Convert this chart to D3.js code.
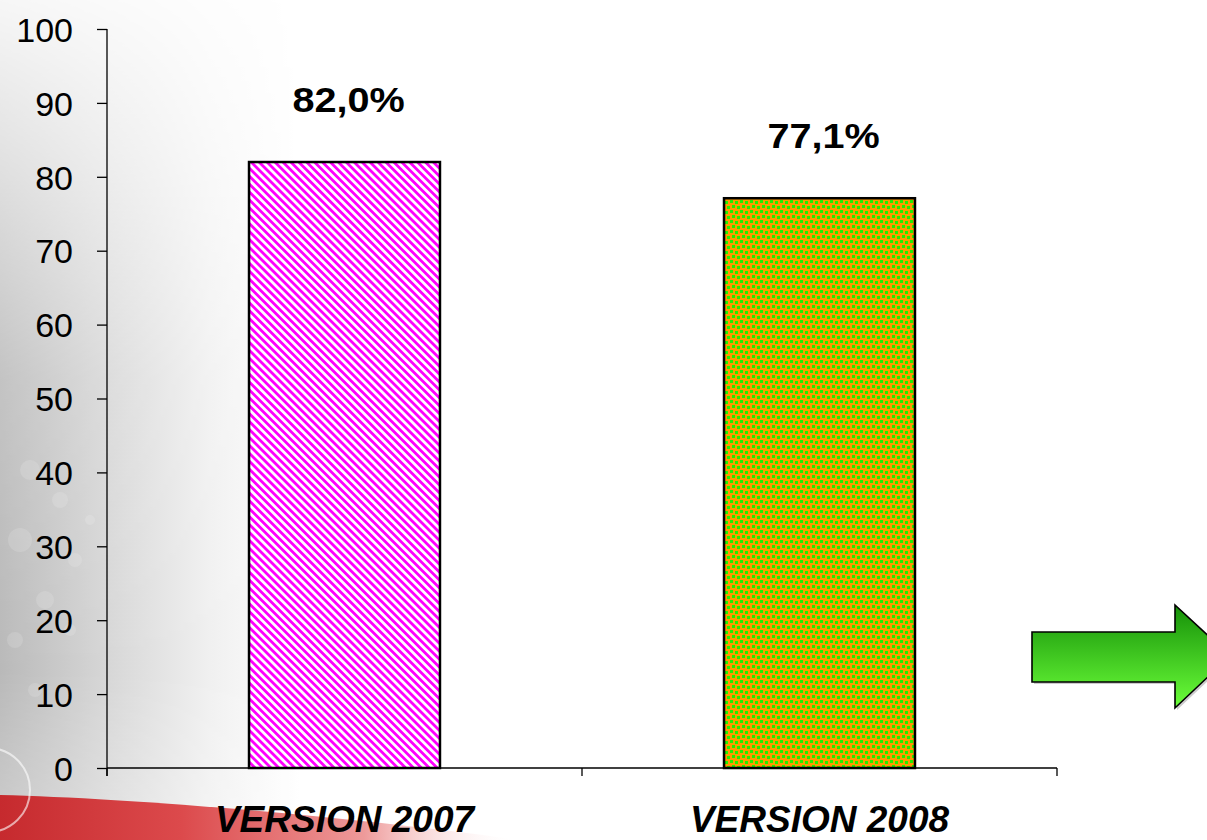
<!DOCTYPE html>
<html>
<head>
<meta charset="utf-8">
<script src="https://cdn.jsdelivr.net/npm/d3@7"></script>
<style>
  html, body { margin: 0; padding: 0; background: #fff; }
  svg { display: block; }
  text { font-family: "Liberation Sans", Arial, sans-serif; fill: #000; }
</style>
</head>
<body>
<svg id="chart" width="1207" height="840"></svg>
<script>
// ---- data ----
const categories = ["VERSION 2007", "VERSION 2008"];
const values = [82.0, 77.1];
const valueLabels = ["82,0%", "77,1%"];
const yTicks = [0, 10, 20, 30, 40, 50, 60, 70, 80, 90, 100];
const barFills = ["url(#stripes)", "url(#dots)"];

const svg = d3.select("#chart");
const W = 1207, H = 840;
const defs = svg.append("defs");

// background gradients
const greyG = defs.append("linearGradient").attr("id", "greyG")
  .attr("x1", 0).attr("y1", 0).attr("x2", 1).attr("y2", 0);
greyG.append("stop").attr("offset", 0).attr("stop-color", "#b9b9b9");
greyG.append("stop").attr("offset", 0.35).attr("stop-color", "#d6d6d6");
greyG.append("stop").attr("offset", 0.7).attr("stop-color", "#f0f0f0");
greyG.append("stop").attr("offset", 1).attr("stop-color", "#ffffff");

const maskG = defs.append("linearGradient").attr("id", "maskG")
  .attr("x1", 0).attr("y1", 0).attr("x2", 0).attr("y2", 1);
maskG.append("stop").attr("offset", 0).attr("stop-color", "#fff").attr("stop-opacity", 0.12);
maskG.append("stop").attr("offset", 0.45).attr("stop-color", "#fff").attr("stop-opacity", 0.85);
maskG.append("stop").attr("offset", 0.8).attr("stop-color", "#fff").attr("stop-opacity", 1);
maskG.append("stop").attr("offset", 1).attr("stop-color", "#fff").attr("stop-opacity", 0.7);
defs.append("mask").attr("id", "greyMask")
  .append("rect").attr("width", 300).attr("height", H).attr("fill", "url(#maskG)");

const redG = defs.append("linearGradient").attr("id", "redG")
  .attr("x1", 0).attr("y1", 0).attr("x2", 1).attr("y2", 0);
redG.append("stop").attr("offset", 0).attr("stop-color", "#c62a2e");
redG.append("stop").attr("offset", 0.35).attr("stop-color", "#dc4a4c");
redG.append("stop").attr("offset", 0.7).attr("stop-color", "#ee9a9a");
redG.append("stop").attr("offset", 1).attr("stop-color", "#ffffff").attr("stop-opacity", 0);

// patterns
const stripes = defs.append("pattern").attr("id", "stripes")
  .attr("patternUnits", "userSpaceOnUse").attr("width", 5.6).attr("height", 5.6)
  .attr("patternTransform", "rotate(-45)");
stripes.append("rect").attr("width", 5.6).attr("height", 5.6).attr("fill", "#ffffff");
stripes.append("rect").attr("width", 2.8).attr("height", 5.6).attr("fill", "#ff00ff");

const dots = defs.append("pattern").attr("id", "dots")
  .attr("patternUnits", "userSpaceOnUse").attr("width", 10).attr("height", 10);
dots.append("rect").attr("width", 10).attr("height", 10).attr("fill", "#ff9900");
[[0,0],[5,1],[2,5],[7,6]].forEach(([x,y]) =>
  dots.append("rect").attr("x", x).attr("y", y).attr("width", 3).attr("height", 3).attr("fill", "#22ee00"));

const arrowG = defs.append("linearGradient").attr("id", "arrowG")
  .attr("x1", 0).attr("y1", 0).attr("x2", 0).attr("y2", 1);
arrowG.append("stop").attr("offset", 0).attr("stop-color", "#159008");
arrowG.append("stop").attr("offset", 1).attr("stop-color", "#6cff3a");

// background
svg.append("rect").attr("width", W).attr("height", H).attr("fill", "#fff");
svg.append("rect").attr("width", 300).attr("height", H).attr("fill", "url(#greyG)")
  .attr("mask", "url(#greyMask)");
// faint snowflake-like specks
const specks = [[30,470,10],[60,500,8],[20,540,12],[75,560,7],[45,600,9],[15,640,8],[70,630,6],[35,690,7],[90,520,5]];
svg.selectAll(".sp").data(specks).join("circle")
  .attr("cx", d => d[0]).attr("cy", d => d[1]).attr("r", d => d[2])
  .attr("fill", "#ffffff").attr("opacity", 0.14);
svg.append("path")
  .attr("d", "M0,795 C120,798 320,813 520,840 L0,840 Z")
  .attr("fill", "url(#redG)");
svg.append("circle").attr("cx", -12).attr("cy", 790).attr("r", 42)
  .attr("fill", "none").attr("stroke", "#ffffff").attr("stroke-opacity", 0.6).attr("stroke-width", 2);

// scales
const x = d3.scaleBand().domain(categories).range([107, 1057]).padding(0);
const y = d3.scaleLinear().domain([0, 100]).range([768, 29]);

// y axis
const yAxis = svg.append("g").attr("transform", "translate(107,0)")
  .call(d3.axisLeft(y).tickValues(yTicks).tickSize(10).tickSizeOuter(0).tickPadding(24));
yAxis.select(".domain").attr("stroke", "#000").attr("stroke-width", 1.3)
  .attr("d", `M0,${y(100)}V${y(0) + 8}`);
yAxis.selectAll(".tick line").attr("stroke", "#000").attr("stroke-width", 1.3);
yAxis.selectAll(".tick text")
  .attr("font-size", 34).attr("font-family", "Liberation Sans, Arial, sans-serif")
  .attr("fill", "#000")
  .attr("dy", "0.36em");

// x axis (ticks on category boundaries)
const xAxis = svg.append("g");
xAxis.append("line")
  .attr("x1", x.range()[0]).attr("x2", x.range()[1])
  .attr("y1", y(0)).attr("y2", y(0))
  .attr("stroke", "#000").attr("stroke-width", 1.3);
const bounds = categories.map(c => x(c)).concat([x(categories[categories.length - 1]) + x.bandwidth()]);
xAxis.selectAll(".xt").data(bounds).join("line")
  .attr("x1", d => d).attr("x2", d => d)
  .attr("y1", y(0)).attr("y2", y(0) + 8)
  .attr("stroke", "#000").attr("stroke-width", 1.3);
xAxis.selectAll(".xl").data(categories).join("text")
  .attr("x", d => x(d) + x.bandwidth() / 2)
  .attr("y", 832)
  .attr("text-anchor", "middle")
  .attr("font-size", 37).attr("font-weight", "bold").attr("font-style", "italic")
  .text(d => d);

// bars
const barW = x.bandwidth() * 0.402;
svg.selectAll(".bar").data(categories).join("rect")
  .attr("x", d => x(d) + x.bandwidth() / 2 - barW / 2)
  .attr("y", (d, i) => y(values[i]))
  .attr("width", barW)
  .attr("height", (d, i) => y(0) - y(values[i]))
  .attr("fill", (d, i) => barFills[i])
  .attr("stroke", "#000").attr("stroke-width", 2.5);

// value labels
svg.selectAll(".vl").data(categories).join("text")
  .attr("transform", (d, i) => `translate(${x(d) + x.bandwidth() / 2 + 4},${y(values[i]) - 50}) scale(1.1,1)`)
  .attr("text-anchor", "middle")
  .attr("font-size", 36).attr("font-weight", "bold")
  .text((d, i) => valueLabels[i]);

// decorative arrow
svg.append("polygon")
  .attr("points", "1034,684 1177,684 1177,710 1232,658 1177,607 1177,634 1034,634")
  .attr("fill", "#999").attr("opacity", 0.5);
svg.append("polygon")
  .attr("points", "1032,682 1175,682 1175,708 1230,656 1175,605 1175,632 1032,632")
  .attr("fill", "url(#arrowG)").attr("stroke", "#000").attr("stroke-width", 1.6)
  .attr("stroke-linejoin", "miter");
</script>
</body>
</html>
